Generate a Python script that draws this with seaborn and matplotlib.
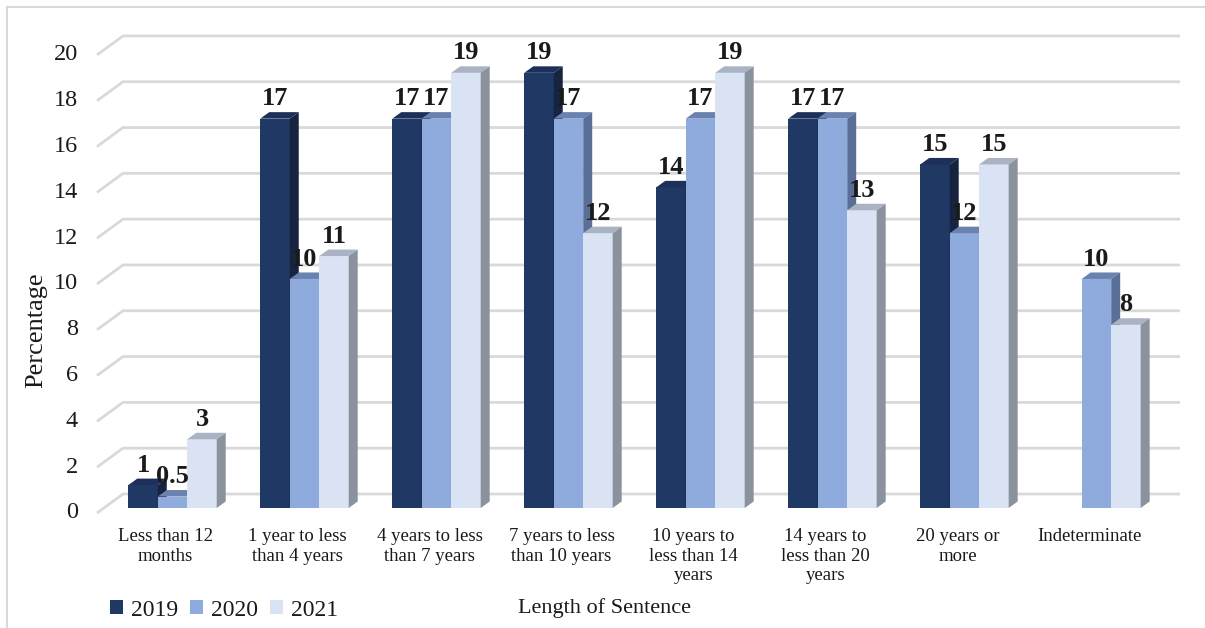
import numpy as np
import pandas as pd
import seaborn as sns
import matplotlib
matplotlib.use("Agg")
import matplotlib.pyplot as plt
from matplotlib.patches import Polygon, Rectangle
from matplotlib.transforms import ScaledTranslation

# ---- data -------------------------------------------------------------
categories = [
    "Less than 12\nmonths",
    "1 year to less\nthan 4 years",
    "4 years to less\nthan 7 years",
    "7 years to less\nthan 10 years",
    "10 years to\nless than 14\nyears",
    "14 years to\nless than 20\nyears",
    "20 years or\nmore",
    "Indeterminate",
]
years = ["2019", "2020", "2021"]
pct_2019 = [1, 17, 17, 19, 14, 17, 15, np.nan]
pct_2020 = [0.5, 10, 17, 17, 17, 17, 12, 10]
pct_2021 = [3, 11, 19, 12, 19, 13, 15, 8]
y_ticks = [0, 2, 4, 6, 8, 10, 12, 14, 16, 18, 20]

# ---- styling ----------------------------------------------------------
front_colors = ["#203864", "#8faadc", "#dae3f3"]
top_colors = ["#1c3059", "#6a82b0", "#aab3c3"]
side_colors = ["#17243f", "#5a6f98", "#8a929e"]
grid_color = "#d9d9d9"
text_color = "#1a1a1a"
serif = "Liberation Serif"

sns.set_theme(style="white")
plt.rcParams["font.family"] = [serif, "DejaVu Serif"]

df = pd.DataFrame({
    "Length of Sentence": categories * 3,
    "Year": np.repeat(years, len(categories)),
    "Percentage": pct_2019 + pct_2020 + pct_2021,
}).dropna()

W, H, DPI = 1205, 628, 100
fig = plt.figure(figsize=(W / DPI, H / DPI), dpi=DPI)
ax_left, ax_right, ax_bottom, ax_top = 97, 1180, 508, 30
ax = fig.add_axes([ax_left / W, 1 - ax_bottom / H,
                   (ax_right - ax_left) / W, (ax_bottom - ax_top) / H])

sns.barplot(data=df, x="Length of Sentence", y="Percentage", hue="Year",
            order=categories, hue_order=years, palette=front_colors,
            saturation=1, width=0.67, linewidth=0, ax=ax)

ax.set_xlim(-0.572, 7.633)
ax.set_ylim(0, 20.87)
for s in ax.spines.values():
    s.set_visible(False)
ax.set_xticks([])
ax.set_yticks([])
ax.set_xlabel("")
ax.set_ylabel("")
ax.patch.set_alpha(0)

# pixel sizes of one data unit
p0 = ax.transData.transform((0, 0))
p1 = ax.transData.transform((1, 1))
sx, sy = p1 - p0

# bar depth (pixels) and back-wall offset
bar_dx, bar_dy = 9.0, 6.5
wall_dx, wall_dy, floor_drop = 26.0, 14.0, 5.0

# gridlines on the back wall with the slanted left edge
x0, x1 = ax.get_xlim()
for v in y_ticks:
    ax.plot([x0, x0 + wall_dx / sx, x1],
            [v - floor_drop / sy, v + wall_dy / sy, v + wall_dy / sy],
            color=grid_color, lw=2, zorder=0.5, clip_on=False,
            solid_capstyle="butt")

# extruded bars: top and side faces per bar
ddx, ddy = bar_dx / sx, bar_dy / sy
for i, cont in enumerate(ax.containers):
    for bar in cont:
        h = bar.get_height()
        if not np.isfinite(h):
            continue
        bx, bw = bar.get_x(), bar.get_width()
        bar.set_zorder(2 + i)
        top = Polygon([(bx, h), (bx + bw, h), (bx + bw + ddx, h + ddy),
                       (bx + ddx, h + ddy)], closed=True,
                      facecolor=top_colors[i], edgecolor="none",
                      zorder=2 + i, clip_on=False)
        side = Polygon([(bx + bw, 0), (bx + bw + ddx, ddy),
                        (bx + bw + ddx, h + ddy), (bx + bw, h)], closed=True,
                       facecolor=side_colors[i], edgecolor="none",
                       zorder=2 + i, clip_on=False)
        ax.add_patch(top)
        ax.add_patch(side)
    ax.bar_label(cont, fmt="{:g}", padding=6, fontsize=19,
                 fontweight="bold", color=text_color, zorder=10)

# y-axis tick labels
ytr = ax.get_yaxis_transform() + ScaledTranslation(-19 / DPI, -5 / DPI,
                                                    fig.dpi_scale_trans)
for v in y_ticks:
    ax.text(0, v, f"{v}", transform=ytr, ha="right", va="center",
            fontsize=17.5, color=text_color)

# category labels under each group
xtr = ax.get_xaxis_transform() + ScaledTranslation(-7 / DPI, -20 / DPI,
                                                    fig.dpi_scale_trans)
for k, c in enumerate(categories):
    ax.text(k, 0, c, transform=xtr, ha="center", va="top", fontsize=13.5,
            color=text_color, linespacing=1.2)

fig.text(604 / W, 1 - 608 / H, "Length of Sentence", ha="center",
         va="center", fontsize=16, color=text_color)
fig.text(36 / W, 1 - 330 / H, "Percentage", ha="center", va="center",
         rotation=90, fontsize=19, color=text_color)

handles, labels = ax.get_legend_handles_labels()
if ax.get_legend() is not None:
    ax.get_legend().remove()
fig.legend(handles, labels, loc="center left",
           bbox_to_anchor=(110 / W, 1 - 610 / H), ncol=3, frameon=False,
           prop={"family": serif, "size": 17}, handlelength=0.55,
           handleheight=0.55, handletextpad=0.35, columnspacing=0.5,
           borderaxespad=0, borderpad=0, labelcolor=text_color)

# chart frame
fig.add_artist(Rectangle((7 / W, -0.1), 1.2, (H - 7) / H + 0.1,
                         transform=fig.transFigure, fill=False,
                         edgecolor=grid_color, lw=1.5))

fig.savefig("out.png", dpi=DPI)
